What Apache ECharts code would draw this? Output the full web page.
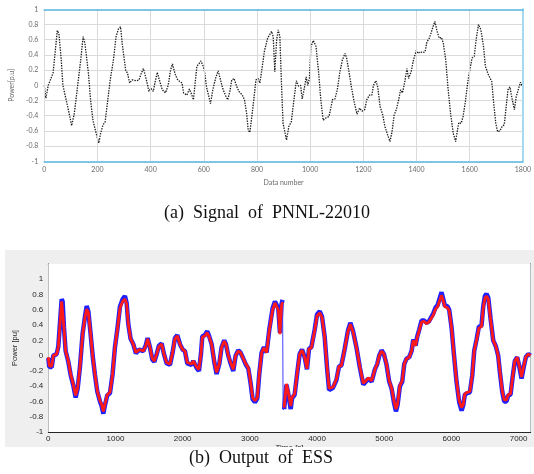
<!DOCTYPE html>
<html><head><meta charset="utf-8">
<script src="https://cdn.jsdelivr.net/npm/echarts@6/dist/echarts.min.js"></script>
<style>html,body{margin:0;padding:0;background:#fff}#c{width:534px;height:474px}</style>
</head><body><div id="c"></div>
<script>
// (a) Signal of PNNL-22010
const sigIndex = [0,6,15,21,33,49,55,64,70,88,103,113,125,137,146,153,166,174,183,195,205,212,221,229,239,248,260,270,279,287,293,306,313,321,330,337,346,356,364,373,379,389,393,401,410,416,425,433,444,456,466,475,482,493,502,509,518,524,536,546,552,561,568,574,583,589,598,603,610,619,625,634,644,654,663,671,681,690,698,705,714,723,732,745,753,761,767,773,779,788,796,804,811,818,828,840,855,861,867,874,880,886,892,898,911,920,929,939,948,956,964,970,978,985,991,997,1003,1012,1022,1032,1040,1049,1059,1071,1084,1093,1102,1112,1121,1131,1137,1145,1155,1165,1176,1186,1195,1205,1213,1223,1232,1238,1247,1254,1263,1273,1281,1291,1300,1308,1316,1324,1333,1340,1347,1355,1364,1370,1380,1387,1399,1405,1413,1423,1432,1439,1448,1454,1462,1469,1476,1485,1494,1501,1510,1518,1528,1538,1547,1553,1559,1568,1575,1584,1593,1603,1609,1617,1625,1633,1642,1652,1659,1670,1683,1689,1698,1705,1714,1722,1730,1736,1744,1751,1759,1768,1775,1784,1791,1800];
const sigPower = [0,-0.17,0,-0.02,0.16,0.72,0.68,0.33,0,-0.28,-0.53,-0.37,-0.02,0.33,0.64,0.55,0.16,-0.19,-0.46,-0.63,-0.76,-0.63,-0.52,-0.48,-0.19,0.07,0.33,0.64,0.74,0.77,0.55,0.2,0.16,0.03,0.07,0.08,0.06,0.07,0.15,0.22,0.14,0,-0.08,-0.04,-0.08,0.03,0.17,0.07,-0.06,-0.1,0,0.2,0.28,0.14,0.07,0.08,0.03,-0.1,-0.13,-0.05,-0.1,-0.19,0.05,0.25,0.29,0.32,0.25,0.18,-0.02,-0.15,-0.24,-0.06,0.09,0.19,0.07,-0.04,-0.13,-0.19,-0.08,0.07,0.09,-0.01,-0.08,-0.13,-0.19,-0.37,-0.59,-0.62,-0.46,-0.19,0.07,0.09,0.03,0.2,0.45,0.62,0.71,0.64,0.18,0.6,0.73,0.64,0.03,-0.5,-0.72,-0.54,-0.48,-0.19,0.06,-0.01,0,-0.18,-0.04,0.11,0,0.09,0.51,0.59,0.51,0.16,-0.19,-0.46,-0.43,-0.41,-0.19,-0.18,-0.06,0.18,0.33,0.42,0.36,0.2,-0.02,-0.21,-0.38,-0.3,-0.34,-0.32,-0.19,-0.13,-0.13,0,0.06,-0.02,-0.28,-0.39,-0.54,-0.65,-0.74,-0.61,-0.39,-0.32,-0.19,-0.06,-0.1,0.03,0.22,0.09,0.18,0.31,0.46,0.42,0.44,0.43,0.44,0.57,0.62,0.68,0.77,0.84,0.73,0.62,0.63,0.55,0.33,-0.02,-0.37,-0.63,-0.74,-0.61,-0.49,-0.5,-0.41,-0.21,0.05,0.25,0.36,0.38,0.62,0.8,0.73,0.51,0.25,0.14,0.05,-0.19,-0.5,-0.61,-0.6,-0.54,-0.52,-0.32,-0.06,-0.02,-0.17,-0.32,-0.15,-0.04,0.04,-0.03];

// (b) Output of ESS
const essTime = [0,15,50,75,124,149,174,199,213,233,258,298,332,372,407,437,471,511,546,571,596,630,660,694,729,769,794,819,843,878,918,957,992,1027,1066,1106,1141,1166,1190,1225,1265,1304,1354,1414,1449,1478,1513,1548,1578,1613,1647,1687,1722,1761,1811,1850,1885,1920,1960,1999,2034,2068,2133,2158,2207,2242,2272,2292,2331,2366,2396,2431,2470,2505,2545,2579,2619,2644,2679,2713,2753,2788,2828,2862,2902,2942,2977,3011,3041,3076,3111,3140,3175,3210,3249,3289,3339,3373,3398,3423,3448,3472,3487,3495,3510,3544,3568,3608,3627,3667,3706,3741,3776,3816,3850,3880,3915,3940,3965,4000,4040,4074,4114,4149,4179,4238,4288,4327,4362,4412,4461,4496,4536,4586,4638,4688,4727,4762,4812,4861,4896,4926,4960,4995,5035,5074,5109,5144,5174,5198,5233,5268,5298,5332,5372,5407,5432,5466,5491,5521,5556,5590,5630,5665,5694,5729,5764,5794,5828,5853,5878,5903,5938,5967,6002,6037,6076,6116,6151,6176,6200,6235,6275,6310,6339,6374,6409,6448,6473,6498,6523,6548,6582,6622,6662,6696,6721,6756,6786,6820,6845,6880,6910,6944,6979,7009,7044,7078,7108,7143,7178];
const essRed = [-0.02,-0.13,-0.14,0,0.02,0.11,0.42,0.71,0.69,0.37,0.06,-0.07,-0.24,-0.38,-0.52,-0.42,-0.15,0.28,0.5,0.61,0.57,0.28,0,-0.24,-0.46,-0.59,-0.64,-0.73,-0.64,-0.51,-0.48,-0.24,0.11,0.33,0.62,0.71,0.74,0.68,0.42,0.22,0.15,0.04,0.08,0.06,0.12,0.22,0.11,-0.04,-0.07,0.02,0.12,0.15,0.02,-0.09,-0.11,0.04,0.22,0.26,0.15,0.08,0.06,-0.09,-0.11,-0.07,-0.15,-0.18,0.02,0.24,0.26,0.3,0.24,0.15,-0.07,-0.22,-0.11,0.11,0.19,0.15,0,-0.09,-0.18,0,0.06,0.04,-0.04,-0.11,-0.16,-0.35,-0.55,-0.59,-0.55,-0.24,0.04,0.1,0.04,0.33,0.6,0.69,0.69,0.6,0.28,0.66,0.7,null,-0.68,-0.37,-0.46,-0.66,-0.55,-0.5,-0.22,0.02,0.07,-0.02,-0.17,0.09,0.1,0.09,0.33,0.52,0.56,0.5,0.24,-0.15,-0.43,-0.41,-0.31,-0.14,-0.13,0.09,0.32,0.41,0.31,0.11,-0.15,-0.36,-0.33,-0.29,-0.33,-0.18,-0.11,0,0.06,0.02,-0.11,-0.33,-0.42,-0.59,-0.7,-0.64,-0.39,-0.33,-0.11,-0.04,-0.02,0.06,0.2,0.13,0.24,0.33,0.44,0.45,0.42,0.44,0.44,0.53,0.61,0.64,0.73,0.79,0.72,0.64,0.63,0.59,0.37,0.02,-0.33,-0.59,-0.68,-0.64,-0.5,-0.48,-0.47,-0.26,0.06,0.2,0.36,0.38,0.62,0.75,0.78,0.74,0.48,0.2,0.12,0,-0.2,-0.46,-0.58,-0.58,-0.51,-0.5,-0.29,-0.07,-0.02,-0.13,-0.28,-0.13,-0.02,0.02,0];
const essBlue = [-0.03,-0.15,-0.15,0,0.02,0.12,0.43,0.74,0.71,0.37,0.06,-0.08,-0.25,-0.39,-0.55,-0.43,-0.15,0.29,0.51,0.65,0.58,0.28,0,-0.25,-0.47,-0.6,-0.66,-0.76,-0.65,-0.52,-0.49,-0.24,0.11,0.34,0.64,0.74,0.78,0.69,0.42,0.22,0.15,0.03,0.08,0.06,0.13,0.23,0.11,-0.05,-0.08,0.02,0.13,0.16,0.02,-0.1,-0.12,0.04,0.23,0.27,0.15,0.08,0.06,-0.1,-0.12,-0.07,-0.16,-0.2,0.02,0.25,0.27,0.32,0.25,0.15,-0.08,-0.24,-0.11,0.11,0.2,0.15,0,-0.1,-0.2,0,0.07,0.04,-0.04,-0.12,-0.17,-0.36,-0.57,-0.61,-0.56,-0.24,0.04,0.11,0.04,0.34,0.62,0.71,0.71,0.62,0.3,0.68,0.73,null,-0.7,-0.38,-0.48,-0.7,-0.56,-0.51,-0.22,0.02,0.08,-0.02,-0.18,0.09,0.11,0.09,0.34,0.54,0.58,0.51,0.24,-0.16,-0.45,-0.42,-0.32,-0.14,-0.13,0.09,0.33,0.43,0.32,0.11,-0.16,-0.38,-0.34,-0.3,-0.34,-0.18,-0.11,0,0.07,0.02,-0.12,-0.34,-0.43,-0.61,-0.73,-0.65,-0.4,-0.34,-0.11,-0.04,-0.02,0.06,0.21,0.13,0.25,0.34,0.46,0.46,0.43,0.45,0.45,0.55,0.63,0.66,0.76,0.83,0.74,0.65,0.65,0.6,0.37,0.02,-0.34,-0.61,-0.72,-0.65,-0.51,-0.49,-0.48,-0.26,0.06,0.21,0.38,0.39,0.64,0.78,0.81,0.76,0.49,0.2,0.12,0,-0.21,-0.47,-0.6,-0.6,-0.52,-0.51,-0.29,-0.07,-0.02,-0.14,-0.3,-0.14,-0.02,0.02,0];
const dropTime = [3487,3495,3510];
const dropBlue = [0.73,-0.71,-0.7];

const xTicksA = {min:0, max:1800, interval:200};
const yTicksA = {min:-1, max:1, interval:0.2};
const xTicksB = {min:0, max:7180, interval:1000};
const yTicksB = {min:-1, max:1.2, interval:0.2};

const pairs = (xs, ys) => xs.map((x, i) => [x, ys[i]]);
const plain = v => String(Math.round(v * 10) / 10);

const chart = echarts.init(document.getElementById('c'), null, {renderer:'canvas'});
const labA = {fontSize:7, color:'#6b6b6b', fontFamily:'Lato', formatter:plain};
const labB = {fontSize:8, color:'#262626', fontFamily:'Liberation Sans'};
const blueDots = {color:'#4fb0dc', type:[1.6,1.1], width:1.6};

chart.setOption({
  animation:false,
  backgroundColor:'#ffffff',
  grid:[
    {left:41, right:7.3, top:9.3, height:152, containLabel:false},
    {left:48.3, right:3.3, top:264, height:168, show:true, backgroundColor:'#ffffff', borderWidth:0, z:1}
  ],
  xAxis:[
    {gridIndex:0, type:'value', position:'bottom', min:xTicksA.min, max:xTicksA.max, interval:xTicksA.interval, z:5,
     axisLine:{show:true, onZero:false, lineStyle:blueDots}, axisTick:{show:false},
     axisLabel:Object.assign({margin:5}, labA),
     splitLine:{show:true, showMaxLine:false, lineStyle:{color:'#dadada', width:1}},
     name:'Data number', nameLocation:'middle', nameGap:18, nameTextStyle:{fontSize:7, color:'#6b6b6b', fontFamily:'Lato'}},
    {gridIndex:0, type:'value', position:'top', min:xTicksA.min, max:xTicksA.max, interval:xTicksA.interval, z:5,
     axisLine:{show:true, onZero:false, lineStyle:blueDots}, axisTick:{show:false},
     axisLabel:{show:false}, splitLine:{show:false}},
    {gridIndex:1, type:'value', position:'bottom', min:xTicksB.min, max:xTicksB.max, interval:xTicksB.interval,
     axisLine:{show:true, onZero:false, lineStyle:{color:'#262626', width:1}},
     axisTick:{show:true, inside:true, length:4, lineStyle:{color:'#262626'}},
     axisLabel:Object.assign({margin:3, showMaxLabel:false, formatter:plain}, labB),
     splitLine:{show:true, lineStyle:{color:'#e4e4e4', width:1}},
     name:'Time [s]', nameLocation:'middle', nameGap:9, nameTextStyle:{fontSize:8, color:'#262626', fontFamily:'Liberation Sans'}},
    {gridIndex:1, type:'value', position:'top', min:xTicksB.min, max:xTicksB.max, interval:xTicksB.interval,
     axisLine:{show:true, onZero:false, lineStyle:{color:'#262626', width:1}},
     axisTick:{show:true, inside:true, length:4, lineStyle:{color:'#262626'}},
     axisLabel:{show:false}, splitLine:{show:false}}
  ],
  yAxis:[
    {gridIndex:0, type:'value', position:'left', min:yTicksA.min, max:yTicksA.max, interval:yTicksA.interval,
     axisLine:{show:false, onZero:false}, axisTick:{show:false},
     axisLabel:Object.assign({margin:6}, labA),
     splitLine:{show:true, showMinLine:false, showMaxLine:false, lineStyle:{color:'#dadada', width:1}},
     name:'Power[p.u]', nameLocation:'middle', nameGap:19, nameTextStyle:{fontSize:7, color:'#6b6b6b', fontFamily:'Lato'}},
    {gridIndex:0, type:'value', position:'right', min:yTicksA.min, max:yTicksA.max, interval:yTicksA.interval, z:5,
     axisLine:{show:true, onZero:false, lineStyle:{color:'#a6d9ee', width:2}}, axisTick:{show:false},
     axisLabel:{show:false}, splitLine:{show:false}},
    {gridIndex:1, type:'value', position:'left', min:yTicksB.min, max:yTicksB.max, interval:yTicksB.interval,
     axisLine:{show:true, onZero:false, lineStyle:{color:'#262626', width:1}},
     axisTick:{show:true, inside:true, length:4, lineStyle:{color:'#262626'}},
     axisLabel:Object.assign({margin:5, formatter:v => (v > 1.05 ? '' : plain(v))}, labB),
     splitLine:{show:true, lineStyle:{color:'#e4e4e4', width:1}},
     name:'Power [pu]', nameLocation:'middle', nameGap:27, nameTextStyle:{fontSize:7.5, color:'#262626', fontFamily:'Liberation Sans'}},
    {gridIndex:1, type:'value', position:'right', min:yTicksB.min, max:yTicksB.max, interval:yTicksB.interval,
     axisLine:{show:true, onZero:false, lineStyle:{color:'#262626', width:1}},
     axisTick:{show:true, inside:true, length:4, lineStyle:{color:'#262626'}},
     axisLabel:{show:false}, splitLine:{show:false}}
  ],
  series:[
    {type:'line', xAxisIndex:0, yAxisIndex:0, data:pairs(sigIndex, sigPower), showSymbol:false, smooth:false,
     lineStyle:{color:'#1a1a1a', width:1.3, type:[1.4,1.2]}},
    {type:'line', xAxisIndex:2, yAxisIndex:2, data:pairs(essTime, essBlue), showSymbol:false, connectNulls:false,
     lineStyle:{color:'#1f1fff', width:4.5}, z:3},
    {type:'line', xAxisIndex:2, yAxisIndex:2, data:pairs(dropTime, dropBlue), showSymbol:false,
     lineStyle:{color:'#4040ff', width:1}, z:3},
    {type:'line', xAxisIndex:2, yAxisIndex:2, data:pairs(essTime, essRed), showSymbol:false, connectNulls:false,
     lineStyle:{color:'#ff1a1a', width:2.8}, z:4}
  ],
  graphic:[
    {type:'rect', z:-10, shape:{x:5, y:250, width:529, height:197}, style:{fill:'#efefef'}},
    {type:'rect', z:100, shape:{x:0, y:447, width:534, height:27}, style:{fill:'#ffffff'}},
    {type:'text', z:101, x:267, y:213, style:{text:'(a)\u2002Signal\u2002of\u2002PNNL-22010', font:'18px "Liberation Serif"', fill:'#111', align:'center', verticalAlign:'middle'}},
    {type:'text', z:101, x:261, y:458, style:{text:'(b)\u2002Output\u2002of\u2002ESS', font:'18px "Liberation Serif"', fill:'#111', align:'center', verticalAlign:'middle'}}
  ]
});
</script></body></html>
